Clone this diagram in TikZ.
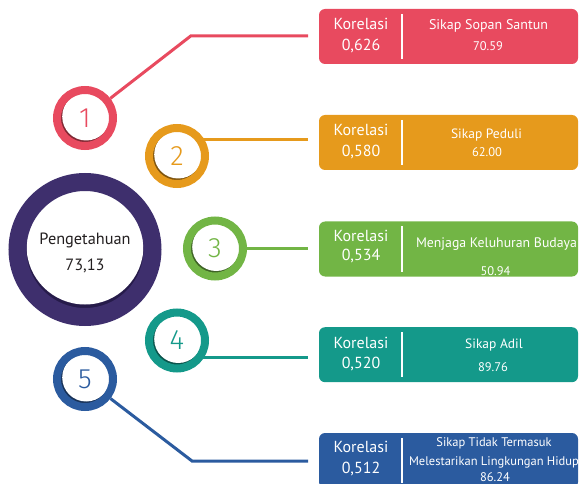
\documentclass[tikz,border=0pt]{standalone}
\usepackage{fontspec}
\setmainfont{PT Sans}
\newfontfamily\numfont{Fira Sans Light}
\usetikzlibrary{backgrounds}

\definecolor{cRed}{HTML}{E84A5F}
\definecolor{cOrange}{HTML}{E69A1C}
\definecolor{cGreen}{HTML}{72B545}
\definecolor{cTeal}{HTML}{14998A}
\definecolor{cBlue}{HTML}{2B5B9F}
\definecolor{cPurple}{HTML}{3E2F6D}
\definecolor{cPurpleDark}{HTML}{261B4A}
\definecolor{cInk}{HTML}{231F20}

\tikzset{
  link/.style={line width=3pt, draw=#1},
  numring/.style={circle, minimum size=56pt, inner sep=0pt, line width=8pt,
    draw=#1, fill=#1!55!black, text=#1,
    font=\numfont\fontsize{28}{28}\selectfont,
    path picture={\fill[white] ([xshift=1.2pt,yshift=1.5pt]path picture bounding box.center) circle (24pt);}},
  hub/.style={circle, minimum size=135pt, inner sep=0pt, line width=18pt,
    draw=cPurple, fill=cPurpleDark,
    path picture={\fill[white] ([yshift=3.5pt]path picture bounding box.center) circle (58.5pt);}},
  hubtext/.style={anchor=base, text=cInk, inner sep=0pt, font=\fontsize{16.3}{19}\selectfont},
  card/.style={rectangle, rounded corners=6pt, minimum width=259pt,
    minimum height=55pt, inner sep=0pt, fill=#1},
  divider/.style={draw=white, line width=1.4pt},
  lbl/.style={anchor=base, text=white, inner sep=0pt, font=\fontsize{16}{19}\selectfont},
  cardtitle/.style={anchor=base, text=white, inner sep=0pt, font=\fontsize{#1}{16}\selectfont},
  cardtitle/.default=13.5,
  score/.style={anchor=base, text=white, inner sep=0pt, font=\fontsize{12.5}{14}\selectfont},
}

\begin{document}
\begin{tikzpicture}[x=1pt, y=-1pt]
\useasboundingbox (0,0) rectangle (579,484);

% central hub
\node[hub] (pg) at (85,249.5) {};
\node[hubtext] (pgname) at (85,245) {Pengetahuan};
\node[hubtext] (pgval) at (85,270) {73,13};

% numbered rings
\node[numring=cRed]    (c1) at (85,118)    {1};
\node[numring=cOrange] (c2) at (177,156)   {2};
\node[numring=cGreen]  (c3) at (215,248.5) {3};
\node[numring=cTeal]   (c4) at (177,340.5) {4};
\node[numring=cBlue]   (c5) at (85,379)    {5};

% cards
\node[card=cRed]    (b1) at (448.5,36.5)  {};
\node[card=cOrange] (b2) at (448.5,142.5) {};
\node[card=cGreen]  (b3) at (448.5,249)   {};
\node[card=cTeal]   (b4) at (448.5,354.7) {};
\node[card=cBlue]   (b5) at (448.5,460.5) {};

% connector bends and free ends
\coordinate (k1) at (190.7,36);
\coordinate (e1) at (308,36);
\coordinate (e2) at (308,139.5);
\coordinate (e3) at (308,248.5);
\coordinate (e4) at (308,357);
\coordinate (k5) at (192,461);
\coordinate (e5) at (308,461);

\begin{scope}[on background layer]
  \draw[link=cRed]    (c1) -- (k1) -- (e1);
  \draw[link=cOrange] (c2 |- e2) -- (e2);
  \draw[link=cGreen]  (c3) -- (e3);
  \draw[link=cTeal]   (c4 |- e4) -- (e4);
  \draw[link=cBlue]   (c5) -- (k5) -- (e5);
\end{scope}

% dividers
\draw[divider] (402,14)    -- (402,59);
\draw[divider] (402,120)   -- (402,165);
\draw[divider] (402,226.5) -- (402,271.5);
\draw[divider] (402,332.2) -- (402,377.2);
\draw[divider] (402,438)   -- (402,483);

% card 1
\node[lbl] (k1a) at (361,29.5) {Korelasi};
\node[lbl] (k1b) at (361,50.5) {0,626};
\node[cardtitle=14] (t1) at (488.5,29.5) {Sikap Sopan Santun};
\node[score] (s1) at (488,51) {70.59};

% card 2
\node[lbl] (k2a) at (361,135.5) {Korelasi};
\node[lbl] (k2b) at (361,157) {0,580};
\node[cardtitle] (t2) at (486.5,138.5) {Sikap Peduli};
\node[score] (s2) at (487,156.5) {62.00};

% card 3
\node[lbl] (k3a) at (361,242) {Korelasi};
\node[lbl] (k3b) at (361,261) {0,534};
\node[cardtitle=13.8] (t3) at (496.5,247.3) {Menjaga Keluhuran Budaya};
\node[score] (s3) at (495.5,275.5) {50.94};

% card 4
\node[lbl] (k4a) at (361,348) {Korelasi};
\node[lbl] (k4b) at (361,368) {0,520};
\node[cardtitle] (t4) at (494,348) {Sikap Adil};
\node[score] (s4) at (493,371) {89.76};

% card 5
\node[lbl] (k5a) at (361,452.5) {Korelasi};
\node[lbl] (k5b) at (361,473) {0,512};
\node[cardtitle=12.5] (t5a) at (494,446) {Sikap Tidak Termasuk};
\node[cardtitle=12.5] (t5b) at (494,465.5) {Melestarikan Lingkungan Hidup};
\node[score] (s5) at (495,481) {86.24};
\end{tikzpicture}
\end{document}
